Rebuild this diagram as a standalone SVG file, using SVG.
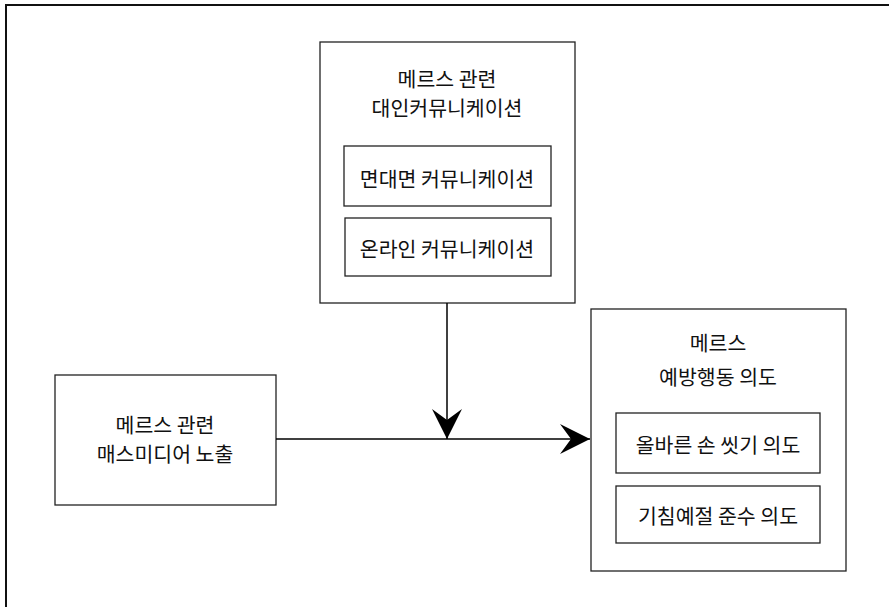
<svg xmlns="http://www.w3.org/2000/svg" width="889" height="607" viewBox="0 0 889 607">
<defs>
<style>
.box{fill:#fff;stroke:#222;stroke-width:1.3}
.frame{fill:none;stroke:#111;stroke-width:2}
.edge{fill:none;stroke:#000;stroke-width:1.5}
text{font-family:"Noto Sans CJK KR","Noto Sans",sans-serif;font-size:20.5px;fill:#111;text-anchor:middle;dominant-baseline:central}
</style>
<marker id="arr" markerUnits="userSpaceOnUse" viewBox="-31 -16 32 32" refX="0" refY="0" markerWidth="32" markerHeight="32" orient="auto">
<path d="M0,0 L-30,-15 L-19,0 L-30,15 Z" fill="#000"/>
</marker>
</defs>
<rect width="889" height="607" fill="#fff"/>
<rect class="frame" x="6" y="5" width="900" height="620"/>
<g id="interpersonal">
<rect class="box" x="320" y="42" width="255" height="261"/>
<text x="447" y="78">메르스 관련</text>
<text x="447" y="107">대인커뮤니케이션</text>
</g>
<g id="face-to-face">
<rect class="box" x="344" y="146" width="207" height="60"/>
<text x="447" y="178">면대면 커뮤니케이션</text>
</g>
<g id="online">
<rect class="box" x="345" y="218" width="206" height="58"/>
<text x="447" y="248">온라인 커뮤니케이션</text>
</g>
<g id="mass-media">
<rect class="box" x="55" y="375" width="221" height="130"/>
<text x="165" y="424">메르스 관련</text>
<text x="165" y="453">매스미디어 노출</text>
</g>
<g id="prevention">
<rect class="box" x="591" y="309" width="255" height="262"/>
<text x="718" y="342">메르스</text>
<text x="718" y="376">예방행동 의도</text>
</g>
<g id="handwash">
<rect class="box" x="616" y="413" width="204" height="60"/>
<text x="718" y="444">올바른 손 씻기 의도</text>
</g>
<g id="cough">
<rect class="box" x="616" y="486" width="204" height="57"/>
<text x="718" y="515">기침예절 준수 의도</text>
</g>
<g id="connectors">
<path class="edge" d="M276,439 H590" marker-end="url(#arr)"/>
<path class="edge" d="M447,303 V439" marker-end="url(#arr)"/>
</g>
</svg>
